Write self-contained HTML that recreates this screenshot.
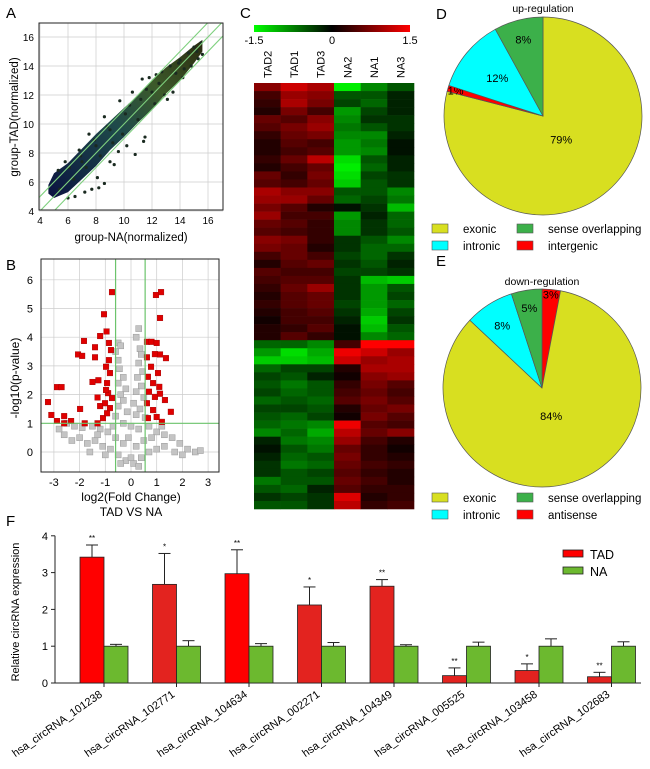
<!DOCTYPE html>
<html><head><meta charset="utf-8"><style>
body{margin:0;background:#fff}
svg{display:block;font-family:"Liberation Sans",sans-serif}
</style></head><body>
<svg id="fig" width="650" height="769" viewBox="0 0 650 769" xmlns="http://www.w3.org/2000/svg">
<defs>
<linearGradient id="cloudGrad" x1="0" y1="1" x2="1" y2="0">
<stop offset="0" stop-color="#0a1240"/><stop offset="0.45" stop-color="#1f4a4a"/><stop offset="0.7" stop-color="#3c5a2a"/><stop offset="1" stop-color="#2a2a10"/>
</linearGradient>
<linearGradient id="cbarGrad" x1="0" y1="0" x2="1" y2="0">
<stop offset="0" stop-color="#00ff00"/><stop offset="0.5" stop-color="#000"/><stop offset="1" stop-color="#ff0000"/>
</linearGradient>
</defs>
<g id="pA"></g>
<g id="pB"></g>
<g id="pC"></g>
<g id="pD"></g>
<g id="pE"></g>
<g id="pF"></g>
</svg>
<script>
// ---------- Panel A data ----------
const aTicks = [4,6,8,10,12,14,16];
const aBandX = [4.6,5,6,7,8,9,10,11,12,13,14,15,15.6];
const aBandLo = [5.2,4.9,5.3,6.2,7.1,8.2,9.1,10.1,11,12.1,13,14.2,15];
const aBandHi = [5.8,6.6,7.3,8.3,9.3,10.2,11.1,12,13,13.9,14.6,15.4,15.8];
const aPtsX = [8.2,8.6,8.1,9.3,9.0,10.8,11.5,11.4,10.2,9.6,7.2,7.7,6.5,6.0,13.1,13.5,14.2,14.8,15.3,15.6,15.5,15.0,14.6,12.3,11.8,11.3,10.6,9.7,8.6,7.5,6.8,5.8,5.3,12.7,13.3,14.0,13.7,12.9,12.2,11.0,9.9,9.2,8.3,7.3,6.4,5.4,10.4,11.6,8.8,7.9,6.9,6.1,14.3,15.2,12.5,11.2,10.1,9.0,8.0,7.0,13.9,12.0];
const aPtsY = [5.6,5.9,6.3,7.2,7.4,7.9,9.1,8.8,8.5,8.1,5.3,5.5,5.0,4.9,11.7,12.2,13.2,14.0,14.5,14.8,15.6,15.3,14.9,13.4,13.2,13.1,12.2,11.6,10.5,9.3,8.2,7.4,6.8,13.6,14.0,14.4,13.5,12.0,11.4,10.3,9.3,8.7,7.8,7.0,6.2,5.5,11.3,12.4,9.8,8.9,7.8,7.0,13.8,15.0,12.8,11.7,10.7,9.6,8.5,7.4,14.2,12.2];
// ---------- Panel B data ----------
const bXTicks = [-3,-2,-1,0,1,2,3];
const bYTicks = [0,1,2,3,4,5,6];
const bRedX = [-0.74,-1.05,-0.95,-1.2,-1.83,-1.4,-2.06,-1.9,-1.4,-2.88,-2.7,-1.5,-1.27,-3.23,-3.1,-2.88,-2.6,-2.6,-2.33,-1.98,-1.8,-1.3,-1.3,-1.2,-1.01,-0.89,-0.93,-0.82,-0.97,-0.86,-1.09,-0.93,-0.82,-0.74,-0.97,-0.78,-0.86,0.97,1.17,1.13,0.62,0.8,1.0,0.93,1.36,1.13,1.32,1.55,1.2,0.62,0.78,0.66,0.86,0.7,0.93,0.62,0.86,1.0,0.66,1.1,1.05,1.13];
const bRedY = [5.57,4.8,4.2,4.04,3.87,3.65,3.4,3.35,3.3,2.26,2.26,2.44,2.5,1.74,1.29,1.08,1.0,1.25,1.08,1.5,1.0,1.9,1.0,1.6,1.7,2.05,2.4,2.75,2.97,3.2,1.18,1.35,1.53,1.88,2.16,3.55,3.8,5.47,5.57,4.67,3.84,3.84,3.8,3.41,3.27,3.4,1.81,1.4,1.05,3.3,2.97,2.62,2.4,2.1,1.92,1.7,1.46,1.22,1.18,2.27,2.75,2.03];
const bGreyX = [0.3,0.2,-0.5,-0.4,-0.6,0.35,0.4,-0.5,0.3,-0.45,0.45,-0.3,0.25,-0.5,0.4,-0.2,0.2,-0.4,0.5,-0.3,0.1,-0.5,0.35,-0.15,0.2,-0.6,0.55,-2.5,-2.2,-1.9,-1.5,-1.2,-0.9,-0.7,-0.3,0,0.3,0.7,1.0,1.3,1.6,1.9,2.2,2.5,-2.6,-2.3,-2.0,-1.7,-1.4,-1.1,-0.8,-0.5,-0.2,0.1,0.4,0.7,1.0,1.3,1.7,2.0,-1.6,-1.0,-0.3,0.2,0.5,0.8,-0.6,-1.3,1.2,0,-0.1,0.3,-0.4,2.7,-2.8];
const bGreyY = [4.3,4.0,3.8,3.7,3.5,3.6,3.4,3.2,3.1,2.9,2.8,2.6,2.6,2.4,2.3,2.2,2.1,2.0,1.9,1.8,1.7,1.6,1.5,1.4,1.3,1.25,1.2,1.0,0.9,0.85,0.9,0.8,0.7,0.9,1.0,0.9,0.8,0.9,0.7,0.6,0.5,0.3,0.1,0.0,0.6,0.4,0.5,0.3,0.4,0.2,0.1,-0.1,-0.3,-0.4,-0.2,0.0,0.1,0.2,0.0,-0.1,0,-0.1,0.3,0.2,0.4,0.5,0.5,0.6,0.9,-0.2,0.5,-0.5,-0.4,0.05,0.8];
// ---------- Panel C data ----------
const cSamples = ["TAD2","TAD1","TAD3","NA2","NA1","NA3"];
const cScaleTicks = [-1.5,0,1.5];
const cRows = [
[.8,1.2,1.0,-1.4,-.8,-.5],[.4,.9,.8,-.5,-.5,-.2],[.3,1.0,.7,-.4,-.6,-.2],[.2,.7,.4,-.9,-.4,-.2],
[.6,.5,.8,-.8,-.3,-.3],[.5,.7,.9,-.7,-.5,-.3],[.3,.6,.7,-.8,-.8,-.2],[.2,.5,.4,-.9,-.7,-.1],
[.2,.4,.5,-.9,-.8,-.1],[.3,.6,1.1,-1.3,-.5,-.2],[.2,.4,.6,-1.4,-.6,-.2],[.6,.3,.7,-1.3,-.4,-.3],
[.5,.4,.6,-1.2,-.5,-.3],[1.0,.8,.8,-.5,-.5,-.8],[.9,.9,.6,-.6,-.4,-.7],[.7,.5,.2,-.1,-.3,-1.1],
[.9,.4,.4,-.9,-.2,-.6],[.6,.5,.3,-.8,-.3,-.6],[.5,.4,.3,-.8,-.3,-.5],[.8,.7,.3,-.3,-.5,-.8],
[.7,.6,.2,-.3,-.6,-.6],[.4,.6,.4,-.4,-.6,-.3],[.2,.5,.6,-.3,-.5,-.2],[.5,.4,.4,-.4,-.4,-.3],
[.4,.5,.5,-.3,-1.1,-1.2],[.3,.6,.9,-.3,-.9,-.5],[.2,.5,.6,-.3,-.9,-.4],[.3,.5,.6,-.4,-.9,-.6],
[.2,.4,.5,-.3,-1.0,-.4],[.1,.4,.4,-.2,-1.2,-.3],[.2,.3,.5,-.1,-1.1,-.5],[.2,.5,.3,-.1,-.8,-.6],
[-.6,-.6,-.8,.4,1.5,1.5],[-.9,-1.3,-1.0,1.4,1.2,.9],[-1.2,-1.2,-1.1,1.2,.9,1.0],[-.6,-.4,-.4,.2,1.0,1.0],
[-.4,-.5,-.2,.1,.8,.9],[-.5,-.7,-.5,.3,.7,.5],[-.4,-.6,-.5,.4,.6,.4],[-.6,-.5,-.6,.5,.7,.5],
[-.4,-.4,-.5,.2,.6,.7],[-.5,-.6,-.4,.1,.7,.5],[-.6,-.7,-.8,1.4,.5,.4],[-.8,-.6,-1.0,1.1,.6,.8],
[-.2,-.7,-.8,.9,.4,.2],[-.1,-.5,-.7,.6,.3,.1],[-.2,-.6,-.5,.7,.3,.2],[-.3,-.7,-.6,.6,.4,.3],
[-.3,-.5,-.4,.5,.3,.2],[-.7,-.5,-.5,.6,.4,.2],[-.5,-.6,-.2,.5,.3,.3],[-.3,-.4,-.3,1.3,.2,.3],
[-.5,-.5,-.3,1.1,.3,.4]];
// ---------- Panel D / E data ----------
const dLabels = ["exonic","intergenic","intronic","sense overlapping"];
const dValues = [79,1,12,8];
const eLabels = ["antisense","exonic","intronic","sense overlapping"];
const eValues = [3,84,8,5];
// ---------- Panel F data ----------
const fCategories = ["hsa_circRNA_101238","hsa_circRNA_102771","hsa_circRNA_104634","hsa_circRNA_002271","hsa_circRNA_104349","hsa_circRNA_005525","hsa_circRNA_103458","hsa_circRNA_102683"];
const fTAD = [3.42,2.68,2.97,2.12,2.63,0.2,0.34,0.17];
const fTADErr = [0.33,0.84,0.65,0.49,0.18,0.21,0.18,0.12];
const fNA = [1.0,1.0,1.0,1.0,1.0,1.0,1.0,1.0];
const fNAErr = [0.05,0.15,0.07,0.1,0.04,0.11,0.2,0.12];
const fStars = ["**","*","**","*","**","**","*","**"];
const fTicks = [0,1,2,3,4];

const NS="http://www.w3.org/2000/svg";
function mk(parent,tag,attrs,text){const e=document.createElementNS(NS,tag);for(const k in attrs)e.setAttribute(k,attrs[k]);if(text!==undefined)e.textContent=text;parent.appendChild(e);return e;}

// ===== Panel A =====
(function(){
const g=document.getElementById('pA');
const L=39,R=223,T=23,B=210;
const sx=v=>40+(v-4)*14, sy=v=>211-(v-4)*14.5;
let t=mk(g,'text',{x:6,y:18,'font-size':15},'A');

const clip=mk(g,'clipPath',{id:'clipA'});mk(clip,'rect',{x:L,y:T,width:R-L,height:B-T});
aTicks.forEach(v=>{
 let l=mk(g,'line',{x1:sx(v),x2:sx(v),y1:T,y2:B,stroke:'#ccc','stroke-width':0.7});
 
 l=mk(g,'line',{x1:L,x2:R,y1:sy(v),y2:sy(v),stroke:'#ccc','stroke-width':0.7});
 
 let tx=mk(g,'text',{x:sx(v),y:224,'font-size':10,'text-anchor':'middle'},v);
 
 tx=mk(g,'text',{x:34,y:sy(v)+4,'font-size':10,'text-anchor':'end'},v);
 
});
const cg=mk(g,'g',{'clip-path':'url(#clipA)'});
let d='M'+aBandX.map((x,i)=>sx(x)+','+sy(aBandLo[i])).join(' L');
for(let i=aBandX.length-1;i>=0;i--)d+=' L'+sx(aBandX[i])+','+sy(aBandHi[i]);
let band=mk(cg,'path',{d:d+'Z',fill:'url(#cloudGrad)'});

aPtsX.forEach((x,i)=>{
 const c=mk(cg,'circle',{cx:sx(x),cy:sy(aPtsY[i]),r:1.6,fill:'#1a2a20'});
 
});
[-1,0,1].forEach(o=>{
 const l=mk(cg,'line',{x1:sx(3),y1:sy(3+o),x2:sx(18),y2:sy(18+o),stroke:'#7ed07e','stroke-width':1.1});
 
});
let r=mk(g,'rect',{x:L,y:T,width:R-L,height:B-T,fill:'none',stroke:'#222','stroke-width':1});

t=mk(g,'text',{x:131,y:241,'font-size':11.5,'text-anchor':'middle'},'group-NA(normalized)');

t=mk(g,'text',{x:0,y:0,'font-size':11.5,'text-anchor':'middle',transform:'translate(18,117) rotate(-90)'},'group-TAD(normalized)');

})();

// ===== Panel B =====
(function(){
const g=document.getElementById('pB');
const L=41,R=219,T=259,B=472;
const sx=v=>131+v*25.7, sy=v=>452-v*28.7;
let t=mk(g,'text',{x:6,y:270,'font-size':15},'B');

bXTicks.forEach(v=>{
 let l=mk(g,'line',{x1:sx(v),x2:sx(v),y1:T,y2:B,stroke:'#ccc','stroke-width':0.7});
 
 let tx=mk(g,'text',{x:sx(v),y:486,'font-size':11,'text-anchor':'middle'},v);
 
});
bYTicks.forEach(v=>{
 let l=mk(g,'line',{x1:L,x2:R,y1:sy(v),y2:sy(v),stroke:'#ccc','stroke-width':0.7});
 
 let tx=mk(g,'text',{x:33,y:sy(v)+4,'font-size':11,'text-anchor':'end'},v);
 
});
bGreyX.forEach((x,i)=>{
 const s=mk(g,'rect',{x:sx(x)-3,y:sy(bGreyY[i])-3,width:6,height:6,fill:'#c4c4c4',stroke:'#999','stroke-width':0.5});
 
});
bRedX.forEach((x,i)=>{
 const s=mk(g,'rect',{x:sx(x)-2.8,y:sy(bRedY[i])-2.8,width:5.6,height:5.6,fill:'#e00000',stroke:'#900','stroke-width':0.4});
 
});
[-0.6,0.55].forEach(v=>{
 const l=mk(g,'line',{x1:sx(v),x2:sx(v),y1:T,y2:B,stroke:'#6cc46c','stroke-width':1.2});
 
});
let hl=mk(g,'line',{x1:L,x2:R,y1:sy(1),y2:sy(1),stroke:'#6cc46c','stroke-width':1.2});

let r=mk(g,'rect',{x:L,y:T,width:R-L,height:B-T,fill:'none',stroke:'#222','stroke-width':1});

t=mk(g,'text',{x:131,y:501,'font-size':12,'text-anchor':'middle'},'log2(Fold Change)');

t=mk(g,'text',{x:131,y:516,'font-size':12,'text-anchor':'middle'},'TAD VS NA');

t=mk(g,'text',{x:0,y:0,'font-size':12,'text-anchor':'middle',transform:'translate(19,378) rotate(-90)'},'-log10(p-value)');

})();

// ===== Panel C =====
(function(){
const g=document.getElementById('pC');
const L=254,R=414,T=83,B=509;
let t=mk(g,'text',{x:240,y:18,'font-size':15},'C');

let cb=mk(g,'rect',{x:254,y:25,width:156,height:7,fill:'url(#cbarGrad)'});

const sv=v=>254+(v+1.5)/3*156;
cScaleTicks.forEach(v=>{
 const tx=mk(g,'text',{x:sv(v),y:44,'font-size':11,'text-anchor':'middle'},v);
 
});
const cw=(R-L)/cSamples.length, rh=(B-T)/cRows.length;
cSamples.forEach((s,j)=>{
 const tx=mk(g,'text',{x:0,y:0,'font-size':11,transform:`translate(${L+cw*j+cw/2+4},78) rotate(-90)`},s);
 
});
const col=v=>{const a=Math.min(1,Math.abs(v)/1.5);const c=Math.round(255*a);return v>=0?`rgb(${c},0,0)`:`rgb(0,${c},0)`;};
cRows.forEach((row,i)=>row.forEach((v,j)=>{
 const c=mk(g,'rect',{x:L+cw*j,y:T+rh*i,width:cw+0.3,height:rh+0.3,fill:col(v)});
 
}));
})();

// ===== Pies =====
function pie(gid,cx,cy,r,labels,values,colors,pctPos){
const g=document.getElementById(gid);
const tot=values.reduce((a,b)=>a+b,0);let a0=0;
values.forEach((v,i)=>{
 const a1=a0+v/tot*2*Math.PI;
 const p=a=>[cx+r*Math.sin(a),cy-r*Math.cos(a)];
 const [x0,y0]=p(a0),[x1,y1]=p(a1);
 const s=mk(g,'path',{d:`M${cx},${cy} L${x0},${y0} A${r},${r} 0 ${a1-a0>Math.PI?1:0} 1 ${x1},${y1} Z`,fill:colors[labels[i]],stroke:'#555','stroke-width':0.7});
 
 const am=(a0+a1)/2, rr=pctPos[i]*r;
 const tx=mk(g,'text',{x:cx+rr*Math.sin(am),y:cy-rr*Math.cos(am)+4,'font-size':11,'text-anchor':'middle'},v+'%');
 
 a0=a1;
});
}
const pieColors={"exonic":"#d8df20","intronic":"#00ffff","sense overlapping":"#3cb04a","intergenic":"#ff0000","antisense":"#ff0000"};
function legend(gid,y,labels){
const g=document.getElementById(gid);
labels.forEach((lb,i)=>{
 const x=i%2?517:432, yy=y+Math.floor(i/2)*17;
 const b=mk(g,'rect',{x:x,y:yy-5,width:16,height:9,fill:pieColors[lb],stroke:'#555','stroke-width':0.6});
 
 const t=mk(g,'text',{x:x+31,y:yy+4,'font-size':11.5},lb);
 
});
}
(function(){
const g=document.getElementById('pD');
let t=mk(g,'text',{x:436,y:19,'font-size':15},'D');
t=mk(g,'text',{x:543,y:12,'font-size':10.5,'text-anchor':'middle'},'up-regulation');
pie('pD',543,116,99,dLabels,dValues,pieColors,[0.3,0.92,0.6,0.8]);
legend('pD',229,["exonic","sense overlapping","intronic","intergenic"]);
t=mk(g,'text',{x:436,y:266,'font-size':15},'E');
t=mk(g,'text',{x:542,y:285,'font-size':10.5,'text-anchor':'middle'},'down-regulation');
pie('pE',542,388,99,eLabels,eValues,pieColors,[0.95,0.3,0.75,0.82]);
legend('pE',498,["exonic","sense overlapping","intronic","antisense"]);
})();

// ===== Panel F =====
(function(){
const g=document.getElementById('pF');
const sy=v=>683-v*36.8, gx=i=>80+i*72.5, bw=24;
let t=mk(g,'text',{x:6,y:526,'font-size':15},'F');
t=mk(g,'text',{x:0,y:0,'font-size':11,'text-anchor':'middle',transform:'translate(19,612) rotate(-90)'},'Relative circRNA expression');

let ax=mk(g,'line',{x1:55,x2:55,y1:sy(4),y2:sy(0),stroke:'#222','stroke-width':1});
ax=mk(g,'line',{x1:55,x2:641,y1:sy(0),y2:sy(0),stroke:'#222','stroke-width':1});
fTicks.forEach(v=>{
 let l=mk(g,'line',{x1:51,x2:55,y1:sy(v),y2:sy(v),stroke:'#222'});
 let tx=mk(g,'text',{x:48,y:sy(v)+4,'font-size':11,'text-anchor':'end'},v);
});
function bar(x,v,e,fill,name){
 let l=mk(g,'line',{x1:x+bw/2,x2:x+bw/2,y1:sy(v),y2:sy(v+e),stroke:'#222','stroke-width':1});
 l=mk(g,'line',{x1:x+bw/2-6,x2:x+bw/2+6,y1:sy(v+e),y2:sy(v+e),stroke:'#222','stroke-width':1});
 const r=mk(g,'rect',{x:x,y:sy(v),width:bw,height:sy(0)-sy(v),fill:fill,stroke:'#222','stroke-width':0.8});
 
}
fCategories.forEach((c,i)=>{
 const x=gx(i);
 bar(x,fTAD[i],fTADErr[i],i===0||i===2?'#ff0000':'#e3231f','bar-tad');
 bar(x+bw,fNA[i],fNAErr[i],'#6cb92f','bar-na');
 let s=mk(g,'text',{x:x+bw/2,y:sy(fTAD[i]+fTADErr[i])-4,'font-size':8,'text-anchor':'middle'},fStars[i]);
 
 let tk=mk(g,'line',{x1:x+bw,x2:x+bw,y1:sy(0),y2:sy(0)+4,stroke:'#222'});
 let tx=mk(g,'text',{x:0,y:0,'font-size':11,'text-anchor':'end',transform:`translate(${x+bw-1},696) rotate(-35)`},c);
 
});
[["TAD","#ff0000",554],["NA","#6cb92f",571]].forEach(([lb,cl,y])=>{
 const r=mk(g,'rect',{x:563,y:y-4,width:20,height:7,fill:cl,stroke:'#222','stroke-width':0.8});
 const t=mk(g,'text',{x:590,y:y+5,'font-size':12.5},lb);
});
})();
</script>
</body></html>
